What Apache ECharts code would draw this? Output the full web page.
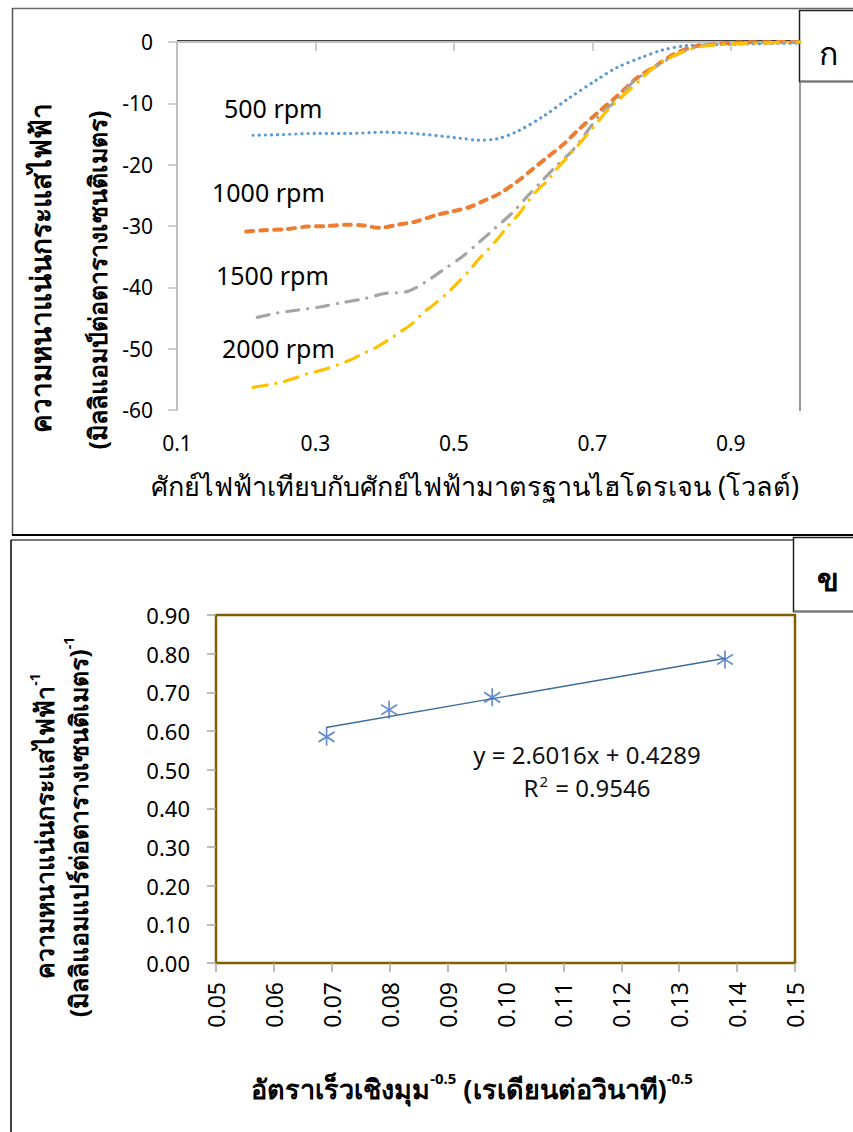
<!DOCTYPE html>
<html><head><meta charset="utf-8">
<script src="https://cdn.jsdelivr.net/npm/echarts@6/dist/echarts.min.js"></script>
<style>html,body{margin:0;padding:0;background:#fff}#c{width:853px;height:1132px}</style>
</head><body><div id="c"></div>
<script>
// ---- Panel ก : current density vs potential ----
const x500 = [0.21,0.25,0.30,0.35,0.40,0.455,0.51,0.535,0.562,0.591,0.628,0.667,0.706,0.735,0.769,0.802,0.836,0.884,0.93,1.0];
const y500 = [-15.2,-15.1,-14.9,-14.9,-14.7,-15.05,-15.7,-16.0,-15.8,-14.6,-12.2,-9.1,-6.2,-4.2,-2.6,-1.3,-0.6,-0.4,-0.3,-0.2];
const x1000 = [0.20,0.224,0.259,0.288,0.317,0.345,0.369,0.393,0.418,0.444,0.475,0.499,0.523,0.545,0.566,0.591,0.614,0.636,0.657,0.682,0.708,0.735,0.764,0.793,0.816,0.845,0.874,0.909,1.0];
const y1000 = [-30.9,-30.7,-30.5,-30.1,-30.0,-29.8,-29.9,-30.3,-29.8,-29.3,-28.2,-27.6,-26.9,-25.8,-24.7,-22.8,-20.7,-18.7,-16.8,-14.1,-11.5,-8.9,-5.9,-3.8,-2.1,-0.8,-0.4,-0.1,0];
const x1500 = [0.216,0.244,0.275,0.306,0.338,0.369,0.400,0.432,0.458,0.484,0.512,0.535,0.559,0.584,0.605,0.627,0.649,0.672,0.711,0.735,0.759,0.783,0.808,0.831,0.855,0.880,0.927,1.0];
const y1500 = [-44.9,-44.2,-43.7,-43.2,-42.5,-41.9,-41.0,-40.7,-39.2,-37.2,-35.0,-32.8,-30.4,-27.9,-25.3,-22.7,-20.1,-17.6,-11.9,-9.5,-6.5,-4.6,-2.9,-1.6,-0.6,-0.4,-0.2,0];
const x2000 = [0.210,0.231,0.253,0.270,0.288,0.309,0.331,0.353,0.369,0.386,0.405,0.425,0.441,0.455,0.470,0.490,0.506,0.523,0.535,0.549,0.564,0.578,0.595,0.607,0.621,0.636,0.650,0.668,0.682,0.694,0.708,0.722,0.740,0.769,0.787,0.808,0.831,0.855,0.888,0.938,1.0];
const y2000 = [-56.3,-55.9,-55.4,-54.8,-54.1,-53.5,-52.7,-51.7,-50.8,-49.9,-48.6,-47.1,-45.8,-44.2,-42.9,-41.0,-39.2,-37.2,-35.5,-33.9,-32.0,-30.0,-27.9,-26.0,-24.1,-22.5,-20.5,-18.3,-16.5,-14.9,-13.0,-11.1,-9.2,-6.2,-4.3,-2.8,-1.6,-0.8,-0.4,-0.2,0];
const seriesNamesA = ['500 rpm','1000 rpm','1500 rpm','2000 rpm'];
const xTicksA = [0.1,0.3,0.5,0.7,0.9];
const yTicksA = [-60,-50,-40,-30,-20,-10,0];

// ---- Panel ข : inverse current density vs omega^-0.5 ----
const omegaInv = [0.0691,0.0799,0.0977,0.1379];
const iInv = [0.585,0.655,0.687,0.785];
const trendX = [0.069,0.138];
const trendY = [0.609,0.788];
const xTicksB = [0.05,0.06,0.07,0.08,0.09,0.10,0.11,0.12,0.13,0.14,0.15];
const yTicksB = [0,0.1,0.2,0.3,0.4,0.5,0.6,0.7,0.8,0.9];
const eqText = 'y = 2.6016x + 0.4289';
const r2Text = '0.9546';

const FONT = "'Noto Sans', 'Open Sans', sans-serif";
const zip = (xs, ys) => xs.map((v, i) => [v, ys[i]]);
const colorsA = ['#5B9BD5','#ED7D31','#A5A5A5','#FFC000'];
const dashA = [[0.1,6],[7,7],[12,9,0.1,9],[14,9,0.1,9]];
const widthA = [3.2,4,3.2,3.2];
const dataA = [zip(x500,y500), zip(x1000,y1000), zip(x1500,y1500), zip(x2000,y2000)];

const chart = echarts.init(document.getElementById('c'), null, {renderer:'svg'});
const lineSeries = dataA.map((d, i) => ({
  type:'line', name: seriesNamesA[i], xAxisIndex:0, yAxisIndex:0, data:d,
  smooth:0.3, showSymbol:false, silent:true,
  lineStyle:{color:colorsA[i], width:widthA[i], type:dashA[i], cap:'round'}
}));

const gray = '#BFBFBF';
const supRich = (size, supSize, lh) => ({
  a:{fontSize:size, fontWeight:'bold', fontFamily:FONT, lineHeight:lh},
  s:{fontSize:supSize, fontWeight:'bold', fontFamily:FONT, verticalAlign:'top', lineHeight:lh}
});
chart.setOption({
  animation:false,
  textStyle:{fontFamily:FONT},
  grid:[
    {left:177, right:53, top:42, bottom:722, show:false},
    {left:216, right:58, top:615, bottom:169, show:true, borderColor:'#7F6000', borderWidth:2.5, backgroundColor:'#fff'}
  ],
  xAxis:[
    {type:'value', gridIndex:0, min:0.1, max:1.0, interval:0.2,
     axisLine:{lineStyle:{color:gray, width:2}},
     axisTick:{show:true, length:9, lineStyle:{color:gray, width:1.5}, customValues:xTicksA},
     axisLabel:{customValues:xTicksA, margin:22, fontSize:21, color:'#000', fontFamily:FONT, formatter:v=>v.toFixed(1)},
     splitLine:{show:false}},
    {type:'value', gridIndex:1, min:0.05, max:0.15, interval:0.01,
     axisLine:{show:false},
     axisTick:{show:true, length:9, lineStyle:{color:'#A6A6A6', width:1.5}, customValues:xTicksB},
     axisLabel:{customValues:xTicksB, rotate:90, margin:19, fontSize:23, color:'#000', fontFamily:FONT, formatter:v=>v.toFixed(2)},
     splitLine:{show:false}}
  ],
  yAxis:[
    {type:'value', gridIndex:0, min:-60, max:0, interval:10,
     axisLine:{show:true, lineStyle:{color:gray, width:2}},
     axisTick:{show:true, length:9, lineStyle:{color:gray, width:1.5}},
     axisLabel:{margin:24, fontSize:21, color:'#000', fontFamily:FONT},
     splitLine:{show:false}},
    {type:'value', gridIndex:1, min:0, max:0.9, interval:0.1,
     axisLine:{show:false},
     axisTick:{show:true, length:9, lineStyle:{color:'#A6A6A6', width:1.5}},
     axisLabel:{margin:26, fontSize:22, color:'#000', fontFamily:FONT, formatter:v=>v.toFixed(2)},
     splitLine:{show:false}}
  ],
  series:[
    ...lineSeries,
    {type:'line', xAxisIndex:1, yAxisIndex:1, data:zip(trendX,trendY), showSymbol:false, silent:true,
     lineStyle:{color:'#3A6C9A', width:1.4}},
    {type:'scatter', xAxisIndex:1, yAxisIndex:1, data:zip(omegaInv,iInv), silent:true,
     symbol:'path://M0,-9 L0,9 M-8,-5 L8,5 M-8,5 L8,-5', symbolSize:[16,18],
     itemStyle:{color:'none', borderColor:'#4472C4', borderWidth:1.8}}
  ],
  graphic:[
    // panel frames
    {type:'line', shape:{x1:12, y1:8.5, x2:853, y2:8.5}, style:{stroke:'#6b6b6b', lineWidth:1.5}},
    {type:'line', shape:{x1:12.5, y1:8, x2:12.5, y2:535}, style:{stroke:'#555', lineWidth:1.5}},
    {type:'line', shape:{x1:12, y1:535, x2:853, y2:535}, style:{stroke:'#000', lineWidth:2}},
    {type:'line', shape:{x1:11, y1:540, x2:853, y2:540}, style:{stroke:'#777', lineWidth:2}},
    {type:'line', shape:{x1:11, y1:540, x2:11, y2:1132}, style:{stroke:'#000', lineWidth:1.5}},
    // top plot border
    {type:'line', shape:{x1:177, y1:41, x2:800, y2:41}, style:{stroke:'#000', lineWidth:1.5}},
    {type:'line', shape:{x1:800, y1:41, x2:800, y2:411}, style:{stroke:'#999', lineWidth:2}},
    // label boxes
    {type:'rect', shape:{x:799.5, y:10.5, width:60, height:71}, style:{fill:'#fff', stroke:'#222', lineWidth:1.5}},
    {type:'line', shape:{x1:800, y1:81.5, x2:853, y2:81.5}, style:{stroke:'#777', lineWidth:2}},
    {type:'text', x:828, y:52, style:{text:'ก', fontSize:32, fontFamily:FONT, fill:'#000', textAlign:'center', textVerticalAlign:'middle'}},
    {type:'rect', shape:{x:793.5, y:537.5, width:70, height:74}, style:{fill:'#fff', stroke:'#222', lineWidth:1.5}},
    {type:'line', shape:{x1:794, y1:611.5, x2:853, y2:611.5}, style:{stroke:'#777', lineWidth:2}},
    {type:'text', x:828, y:578, style:{text:'ข', fontSize:32, fontWeight:'bold', fontFamily:FONT, fill:'#000', textAlign:'center', textVerticalAlign:'middle'}},
    // series labels panel ก
    {type:'text', x:224, y:108, style:{text:seriesNamesA[0], fontSize:25, fontFamily:FONT, fill:'#000', textVerticalAlign:'middle'}},
    {type:'text', x:212, y:192, style:{text:seriesNamesA[1], fontSize:25, fontFamily:FONT, fill:'#000', textVerticalAlign:'middle'}},
    {type:'text', x:216, y:275, style:{text:seriesNamesA[2], fontSize:25, fontFamily:FONT, fill:'#000', textVerticalAlign:'middle'}},
    {type:'text', x:222, y:348, style:{text:seriesNamesA[3], fontSize:25, fontFamily:FONT, fill:'#000', textVerticalAlign:'middle'}},
    // axis titles panel ก
    {type:'text', x:475, y:485, style:{text:'ศักย์ไฟฟ้าเทียบกับศักย์ไฟฟ้ามาตรฐานไฮโดรเจน (โวลต์)', fontSize:27, fontFamily:FONT, fill:'#000', textAlign:'center', textVerticalAlign:'middle'}},
    {type:'text', x:40, y:268, rotation:Math.PI/2, style:{text:'ความหนาแน่นกระแสไฟฟ้า', fontSize:28, fontWeight:'bold', fontFamily:FONT, fill:'#000', textAlign:'center', textVerticalAlign:'middle'}},
    {type:'text', x:97, y:280, rotation:Math.PI/2, style:{text:'(มิลลิแอมป์ต่อตารางเซนติเมตร)', fontSize:25, fontWeight:'bold', fontFamily:FONT, fill:'#000', textAlign:'center', textVerticalAlign:'middle'}},
    // panel ข texts
    {type:'text', x:587, y:754, style:{text:eqText, fontSize:24, fontFamily:FONT, fill:'#111', textAlign:'center', textVerticalAlign:'middle'}},
    {type:'text', x:587, y:787, style:{text:'{a|R}{s|2}{a| = '+r2Text+'}', fontFamily:FONT, fill:'#111', textAlign:'center', textVerticalAlign:'middle',
      rich:{a:{fontSize:24, fontFamily:FONT, lineHeight:28}, s:{fontSize:15, fontFamily:FONT, verticalAlign:'top', lineHeight:24, padding:[0,1,0,1]}}}},
    {type:'text', x:472, y:1088, style:{text:'{a|อัตราเร็วเชิงมุม}{s|-0.5}{a| (เรเดียนต่อวินาที)}{s|-0.5}', fontFamily:FONT, fill:'#000', textAlign:'center', textVerticalAlign:'middle',
      rich:supRich(27, 15, 36)}},
    {type:'text', x:44, y:826, rotation:Math.PI/2, style:{text:'{a|ความหนาแน่นกระแสไฟฟ้า}{s|-1}', fontFamily:FONT, fill:'#000', textAlign:'center', textVerticalAlign:'middle',
      rich:supRich(25, 14, 34)}},
    {type:'text', x:78, y:827, rotation:Math.PI/2, style:{text:'{a|(มิลลิแอมแปร์ต่อตารางเซนติเมตร)}{s|-1}', fontFamily:FONT, fill:'#000', textAlign:'center', textVerticalAlign:'middle',
      rich:supRich(25, 14, 34)}}
  ]
});
</script></body></html>
